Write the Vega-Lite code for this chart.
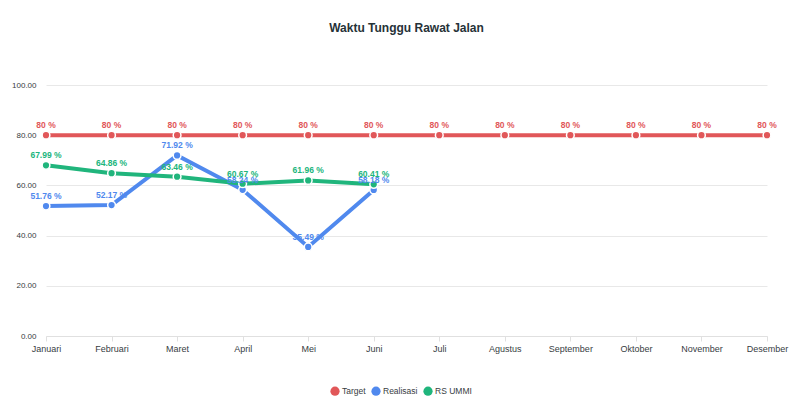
{
  "$schema": "https://vega.github.io/schema/vega-lite/v6.json",
  "autosize": "none",
  "padding": {"left": 46, "top": 85, "right": 33, "bottom": 64},
  "width": 721,
  "height": 251,
  "background": "white",
  "title": {
    "text": "Waktu Tunggu Rawat Jalan",
    "anchor": "middle",
    "font": "Liberation Sans",
    "fontSize": 12,
    "fontWeight": "bold",
    "color": "#263238",
    "frame": "group",
    "offset": 46
  },
  "data": {
    "values": [
      {"bulan": "Januari", "seri": "Target", "nilai": 80},
      {"bulan": "Februari", "seri": "Target", "nilai": 80},
      {"bulan": "Maret", "seri": "Target", "nilai": 80},
      {"bulan": "April", "seri": "Target", "nilai": 80},
      {"bulan": "Mei", "seri": "Target", "nilai": 80},
      {"bulan": "Juni", "seri": "Target", "nilai": 80},
      {"bulan": "Juli", "seri": "Target", "nilai": 80},
      {"bulan": "Agustus", "seri": "Target", "nilai": 80},
      {"bulan": "September", "seri": "Target", "nilai": 80},
      {"bulan": "Oktober", "seri": "Target", "nilai": 80},
      {"bulan": "November", "seri": "Target", "nilai": 80},
      {"bulan": "Desember", "seri": "Target", "nilai": 80},
      {"bulan": "Januari", "seri": "Realisasi", "nilai": 51.76},
      {"bulan": "Februari", "seri": "Realisasi", "nilai": 52.17},
      {"bulan": "Maret", "seri": "Realisasi", "nilai": 71.92},
      {"bulan": "April", "seri": "Realisasi", "nilai": 58.24},
      {"bulan": "Mei", "seri": "Realisasi", "nilai": 35.49},
      {"bulan": "Juni", "seri": "Realisasi", "nilai": 58.18},
      {"bulan": "Januari", "seri": "RS UMMI", "nilai": 67.99},
      {"bulan": "Februari", "seri": "RS UMMI", "nilai": 64.86},
      {"bulan": "Maret", "seri": "RS UMMI", "nilai": 63.46},
      {"bulan": "April", "seri": "RS UMMI", "nilai": 60.67},
      {"bulan": "Mei", "seri": "RS UMMI", "nilai": 61.96},
      {"bulan": "Juni", "seri": "RS UMMI", "nilai": 60.41}
    ]
  },
  "transform": [{"calculate": "datum.nilai + ' %'", "as": "label"}],
  "encoding": {
    "x": {
      "field": "bulan",
      "type": "ordinal",
      "sort": null,
      "scale": {"type": "point", "padding": 0},
      "axis": {
        "title": null,
        "labelAngle": 0,
        "labelFont": "Liberation Sans",
        "labelFontSize": 9,
        "labelColor": "#373d3f",
        "labelPadding": 3,
        "domainColor": "#e0e0e0",
        "tickColor": "#e0e0e0",
        "tickSize": 5,
        "grid": false
      }
    },
    "y": {
      "field": "nilai",
      "type": "quantitative",
      "scale": {"domain": [0, 100], "nice": false},
      "axis": {
        "title": null,
        "values": [0, 20, 40, 60, 80, 100],
        "format": ".2f",
        "labelFont": "Liberation Sans",
        "labelFontSize": 8,
        "labelColor": "#373d3f",
        "labelPadding": 10,
        "domain": false,
        "ticks": false,
        "gridColor": "#e8e8e8"
      }
    },
    "color": {
      "field": "seri",
      "type": "nominal",
      "scale": {
        "domain": ["Target", "Realisasi", "RS UMMI"],
        "range": ["#E15759", "#5089EE", "#20B57C"]
      },
      "legend": {
        "title": null,
        "orient": "none",
        "direction": "horizontal",
        "legendX": 284,
        "legendY": 301,
        "symbolType": "circle",
        "symbolSize": 85,
        "symbolStrokeWidth": 0,
        "symbolOpacity": 1,
        "labelFont": "Liberation Sans",
        "labelFontSize": 8.5,
        "labelColor": "#373d3f",
        "columnPadding": 5,
        "labelOffset": 2
      }
    }
  },
  "layer": [
    {
      "mark": {"type": "line", "strokeWidth": 4}
    },
    {
      "mark": {"type": "point", "filled": true, "shape": "circle", "size": 60, "stroke": "white", "strokeWidth": 1.5, "opacity": 1}
    },
    {
      "mark": {"type": "text", "dy": -10, "font": "Liberation Sans", "fontSize": 8.5, "fontWeight": "bold"},
      "encoding": {"text": {"field": "label"}}
    }
  ],
  "config": {"view": {"stroke": null}}
}
